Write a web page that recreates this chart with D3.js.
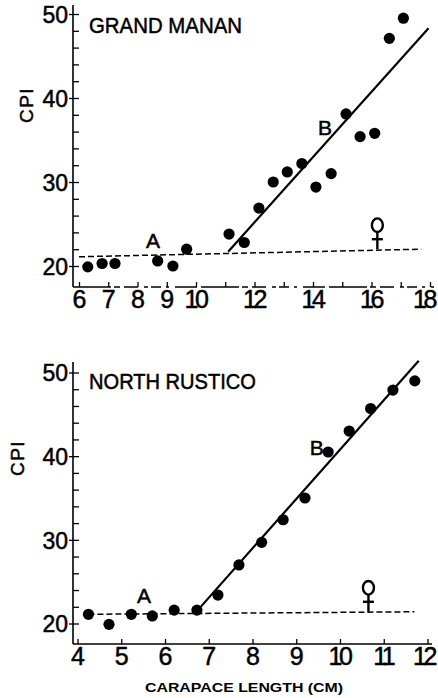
<!DOCTYPE html>
<html>
<head>
<meta charset="utf-8">
<script src="https://cdn.jsdelivr.net/npm/d3@7"></script>
<style>
  html, body { margin: 0; padding: 0; background: #fff; }
  svg { display: block; }
  text { fill: #000; }
</style>
</head>
<body>
<svg id="chart" width="438" height="698"></svg>
<script>
// ---- Grand Manan: carapace length (cm) vs CPI ----
const gmLength = [6.30, 6.79, 7.23, 8.69, 9.21, 9.68, 11.13, 11.65, 12.15, 12.64, 13.12, 13.62, 14.10, 14.62, 15.13, 15.61, 16.11, 16.61, 17.09];
const gmCPI    = [19.9, 20.3, 20.3, 20.6, 20.0, 22.0, 23.8, 22.8, 26.9, 30.0, 31.2, 32.2, 29.4, 31.0, 38.1, 35.4, 35.8, 47.1, 49.5];
// fitted lines: A (juvenile, dashed) and B (adult, solid)
const gmLineA = [[6.0, 21.1], [17.7, 22.0]];
const gmLineB = [[11.1, 21.7], [17.95, 48.3]];

// ---- North Rustico ----
const nrLength = [4.25, 4.72, 5.23, 5.71, 6.21, 6.73, 7.21, 7.69, 8.21, 8.70, 9.20, 9.73, 10.21, 10.70, 11.21, 11.71];
const nrCPI    = [21.1, 19.9, 21.1, 20.9, 21.6, 21.6, 23.4, 27.0, 29.7, 32.4, 35.0, 40.5, 43.0, 45.7, 47.9, 49.0];
const nrLineA = [[4.25, 21.1], [11.7, 21.4]];
const nrLineB = [[6.75, 21.6], [11.8, 51.4]];

// tick labels
const yMajor = [20, 30, 40, 50];
const yTicks = [20, 22, 24, 26, 28, 30, 32, 34, 36, 38, 40, 42, 44, 46, 48, 50];
const gmXTicks = [6, 7, 8, 9, 10, 11, 12, 13, 14, 15, 16, 17, 18];
const gmXLabels = [6, 7, 8, 9, 10, 12, 14, 16, 18];
const nrXTicks = [4, 5, 6, 7, 8, 9, 10, 11, 12];
const nrXLabels = [4, 5, 6, 7, 8, 9, 10, 11, 12];

const W = 438;
const svg = d3.select("#chart");

const panels = [
  {
    title: "GRAND MANAN", titleLen: 153,
    xs: gmLength, ys: gmCPI, lineA: gmLineA, lineB: gmLineB,
    xTicks: gmXTicks, xLabels: gmXLabels,
    x: d3.scaleLinear().domain([6, 18]).range([79, 430]),
    y: d3.scaleLinear().domain([20, 50]).range([266, 14]),
    axisX: 73, axisTop: 5, axisBottom: 287, axisRight: 434,
    xAxisDash: "38,3,6,4,14,6,4,3,10,5,3,6,22,4",
    cpi: [26, 105],
    labA: [8.53, 23.1], labB: [14.41, 36.5],
    female: 16.2, femaleBase: 22.0
  },
  {
    title: "NORTH RUSTICO", titleLen: 167,
    xs: nrLength, ys: nrCPI, lineA: nrLineA, lineB: nrLineB,
    xTicks: nrXTicks, xLabels: nrXLabels,
    x: d3.scaleLinear().domain([4, 12]).range([77.5, 427.5]),
    y: d3.scaleLinear().domain([20, 50]).range([623.5, 372.5]),
    axisX: 73, axisTop: 362, axisBottom: 644, axisRight: 432,
    xAxisDash: null,
    cpi: [17, 458],
    labA: [5.52, 23.4], labB: [9.47, 41.1],
    female: 10.65, femaleBase: 21.4
  }
];

const ink = sel => sel.attr("stroke", "#000").attr("stroke-width", 0.5);

panels.forEach(p => {
  const g = svg.append("g");
  const { x, y } = p;

  // axis lines
  g.append("line")
    .attr("x1", p.axisX).attr("x2", p.axisX)
    .attr("y1", p.axisTop).attr("y2", p.axisBottom)
    .attr("stroke", "#000").attr("stroke-width", 1.6);
  g.append("line")
    .attr("x1", p.axisX).attr("x2", p.axisRight)
    .attr("y1", p.axisBottom).attr("y2", p.axisBottom)
    .attr("stroke", "#000").attr("stroke-width", 1.6)
    .attr("stroke-dasharray", p.xAxisDash);

  // y axis: ticks point inward, labels on majors only
  const yAxis = d3.axisLeft(y)
    .tickValues(yTicks)
    .tickSizeInner(-6).tickSizeOuter(0).tickPadding(5)
    .tickFormat(d => yMajor.includes(d) ? d : "");
  const yg = g.append("g")
    .attr("transform", `translate(${p.axisX},0)`)
    .call(yAxis);
  yg.select(".domain").remove();
  yg.selectAll(".tick line").attr("stroke", "#000").attr("stroke-width", 1.3);
  yg.selectAll(".tick text")
    .attr("font-family", "'Liberation Sans', Arial, sans-serif")
    .attr("font-size", 23).attr("fill", "#000")
    .attr("dy", "0.36em")
    .call(ink);
  // majors also cross the axis line
  yg.selectAll(".tick").filter(d => yMajor.includes(d))
    .append("line").attr("x1", -4).attr("x2", 0)
    .attr("stroke", "#000").attr("stroke-width", 1.3);

  // x axis: ticks point upward
  const xAxis = d3.axisBottom(x)
    .tickValues(p.xTicks)
    .tickSizeInner(-5).tickSizeOuter(0).tickPadding(3)
    .tickFormat(d => p.xLabels.includes(d) ? d : "");
  const xg = g.append("g")
    .attr("transform", `translate(0,${p.axisBottom})`)
    .call(xAxis);
  xg.select(".domain").remove();
  xg.selectAll(".tick line").attr("stroke", "#000").attr("stroke-width", 1.3);
  xg.selectAll(".tick text")
    .attr("font-family", "'Liberation Sans Narrow', 'Liberation Sans', Arial, sans-serif")
    .attr("font-size", 25).attr("fill", "#000")
    .call(ink)
    .filter(d => d >= 10)
    .attr("letter-spacing", -3.5)
    .attr("dx", -1.5);
  // keep the outermost labels inside the page
  xg.selectAll(".tick text").each(function(d) {
    const b = this.getBBox();
    const right = x(d) + b.x + b.width;
    if (right > W - 2) {
      d3.select(this).attr("dx", (+d3.select(this).attr("dx") || 0) - (right - (W - 2)));
    }
  });

  // CPI axis title
  g.append("text")
    .attr("transform", `translate(${p.cpi[0]},${p.cpi[1]}) rotate(-90)`)
    .attr("text-anchor", "middle").attr("dy", "0.36em")
    .attr("font-family", "'Liberation Sans', Arial, sans-serif")
    .attr("font-size", 19).attr("letter-spacing", 1.5)
    .call(ink)
    .text("CPI");

  // panel title
  g.append("text")
    .attr("x", p.axisX + 16).attr("y", y(50) + (p === panels[0] ? 19 : 16))
    .attr("font-family", "'Liberation Sans', Arial, sans-serif")
    .attr("font-size", 22)
    .attr("textLength", p.titleLen).attr("lengthAdjust", "spacingAndGlyphs")
    .call(ink)
    .text(p.title);

  const line = d3.line().x(d => x(d[0])).y(d => y(d[1]));

  // dashed line A
  g.append("path")
    .attr("d", line(p.lineA))
    .attr("fill", "none").attr("stroke", "#000")
    .attr("stroke-width", 1.5).attr("stroke-dasharray", "6,3");
  // solid line B
  g.append("path")
    .attr("d", line(p.lineB))
    .attr("fill", "none").attr("stroke", "#000")
    .attr("stroke-width", 2.2);

  // data points
  g.selectAll("circle.pt")
    .data(d3.zip(p.xs, p.ys))
    .join("circle")
    .attr("class", "pt")
    .attr("cx", d => x(d[0])).attr("cy", d => y(d[1]))
    .attr("r", 5.6).attr("fill", "#000");

  // segment labels
  [["A", p.labA], ["B", p.labB]].forEach(([t, pos]) => {
    g.append("text")
      .attr("x", x(pos[0])).attr("y", y(pos[1]))
      .attr("text-anchor", "middle").attr("dy", "0.36em")
      .attr("font-family", "'Liberation Sans', Arial, sans-serif")
      .attr("font-size", 21)
      .call(ink)
      .text(t);
  });

  // female symbol sitting on line A
  const fx = x(p.female), fb = y(p.femaleBase);
  const fs = g.append("g").attr("stroke", "#000").attr("fill", "none").attr("stroke-width", 2.4);
  fs.append("ellipse").attr("cx", fx).attr("cy", fb - 24).attr("rx", 5.5).attr("ry", 6.8);
  fs.append("line").attr("x1", fx).attr("x2", fx).attr("y1", fb - 17).attr("y2", fb);
  fs.append("line").attr("x1", fx - 5.5).attr("x2", fx + 5.5).attr("y1", fb - 10).attr("y2", fb - 10);
});

// shared x axis title
svg.append("text")
  .attr("x", 244).attr("y", 692)
  .attr("text-anchor", "middle")
  .attr("font-family", "'Liberation Sans', Arial, sans-serif")
  .attr("font-weight", "bold").attr("font-size", 13)
  .attr("textLength", 198).attr("lengthAdjust", "spacingAndGlyphs")
  .text("CARAPACE LENGTH (CM)");
</script>
</body>
</html>
